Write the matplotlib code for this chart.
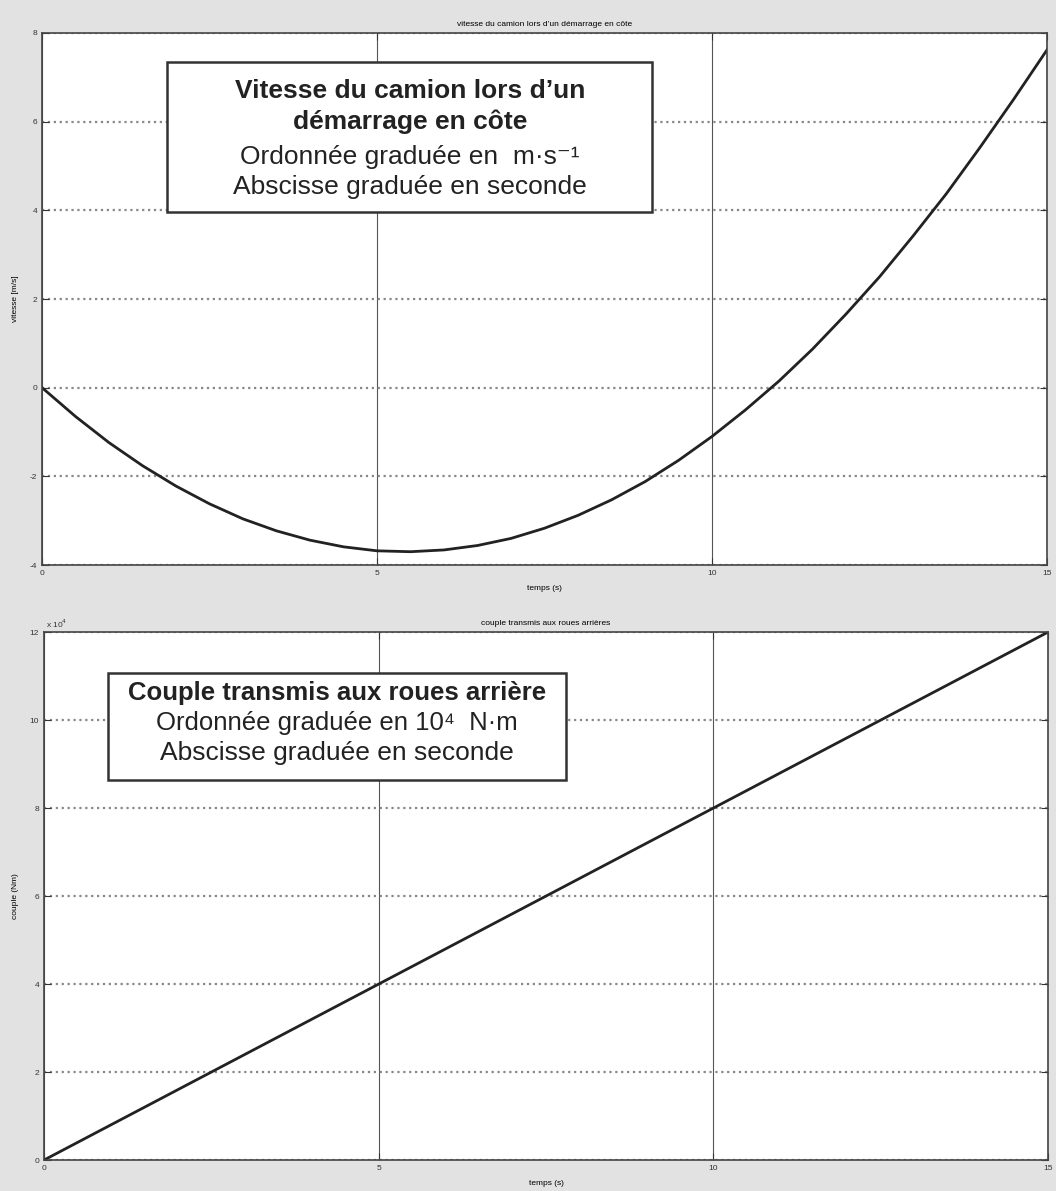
import matplotlib.pyplot as plt
from matplotlib.patches import Rectangle
from matplotlib.ticker import FuncFormatter

plt.rcParams['font.family'] = ['Liberation Sans', 'DejaVu Sans']
plt.rcParams['axes.unicode_minus'] = False

# vitesse du camion (m/s)
temps_v = [0, 0.5, 1, 1.5, 2, 2.5, 3, 3.5, 4, 4.5, 5, 5.5, 6, 6.5, 7, 7.5,
           8, 8.5, 9, 9.5, 10, 10.5, 11, 11.5, 12, 12.5, 13, 13.5, 14, 14.5, 15]
vitesse = [0, -0.65, -1.24, -1.76, -2.22, -2.62, -2.96, -3.23, -3.44, -3.59,
           -3.68, -3.70, -3.66, -3.56, -3.40, -3.17, -2.88, -2.53, -2.12, -1.64,
           -1.10, -0.50, 0.15, 0.87, 1.66, 2.5, 3.42, 4.38, 5.42, 6.5, 7.62]

# couple transmis (N.m)
temps_c = [0, 5, 10, 15]
couple = [0, 4e4, 8e4, 12e4]

x_ticks = [0, 5, 10, 15]
v_ticks = [-4, -2, 0, 2, 4, 6, 8]
c_ticks = [0, 2e4, 4e4, 6e4, 8e4, 10e4, 12e4]

fig = plt.figure(figsize=(10.56, 11.91), dpi=100, facecolor='#e2e2e2')
ax1 = fig.add_axes([0.0398, 0.5256, 0.9517, 0.4467])
ax2 = fig.add_axes([0.0417, 0.026, 0.9508, 0.4433])


def style_axes(ax):
    ax.set_facecolor('white')
    ax.set_xlim(0, 15)
    ax.set_xticks(x_ticks)
    ax.tick_params(labelsize=6, direction='in', length=5, width=0.8, colors='#333333',
                   top=True, right=True)
    for s in ax.spines.values():
        s.set_linewidth(1.2)
        s.set_color('#444444')
    ax.xaxis.grid(True, color='#555555', linestyle='-', linewidth=0.8)
    ax.yaxis.grid(True, color='#888888', linestyle=':', linewidth=1.6)
    ax.set_axisbelow(True)
    ax.set_xlabel('temps (s)', fontsize=6, labelpad=6)


style_axes(ax1)
ax1.plot(temps_v, vitesse, color='#222222', linewidth=2)
ax1.set_ylim(-4, 8)
ax1.set_yticks(v_ticks)
ax1.set_ylabel('vitesse [m/s]', fontsize=6, labelpad=8)
ax1.set_title('vitesse du camion lors d\u2019un démarrage en côte', fontsize=6, pad=5)

style_axes(ax2)
ax2.plot(temps_c, couple, color='#222222', linewidth=2)
ax2.set_ylim(0, 12e4)
ax2.set_yticks(c_ticks)
ax2.yaxis.set_major_formatter(FuncFormatter(lambda v, p: '%g' % (v / 1e4)))
ax2.text(0.002, 1.003, 'x 10$^4$', transform=ax2.transAxes, fontsize=6,
         ha='left', va='bottom', color='#333333')
ax2.set_ylabel('couple (Nm)', fontsize=6, labelpad=8)
ax2.set_title('couple transmis aux roues arrières', fontsize=6, pad=5)

# encadrés explicatifs
txt = dict(ha='center', va='center', color='#222222', zorder=6)
ax1.add_patch(Rectangle((0.124, 0.664), 0.483, 0.281, transform=ax1.transAxes,
                        facecolor='white', edgecolor='#333333', linewidth=1.8, zorder=5))
ax1.text(0.366, 0.891, 'Vitesse du camion lors d\u2019un', transform=ax1.transAxes,
         fontsize=19, fontweight='bold', **txt)
ax1.text(0.366, 0.834, 'démarrage en côte', transform=ax1.transAxes,
         fontsize=19, fontweight='bold', **txt)
ax1.text(0.366, 0.766, 'Ordonnée graduée en  m\u00b7s\u207b\u00b9', transform=ax1.transAxes,
         fontsize=19, **txt)
ax1.text(0.366, 0.710, 'Abscisse graduée en seconde', transform=ax1.transAxes,
         fontsize=19, **txt)

ax2.add_patch(Rectangle((0.064, 0.720), 0.456, 0.202, transform=ax2.transAxes,
                        facecolor='white', edgecolor='#333333', linewidth=1.8, zorder=5))
ax2.text(0.292, 0.884, 'Couple transmis aux roues arrière', transform=ax2.transAxes,
         fontsize=18.5, fontweight='bold', **txt)
ax2.text(0.292, 0.828, 'Ordonnée graduée en 10\u2074  N\u00b7m', transform=ax2.transAxes,
         fontsize=18.5, **txt)
ax2.text(0.292, 0.771, 'Abscisse graduée en seconde', transform=ax2.transAxes,
         fontsize=19, **txt)

plt.savefig('out.png', dpi=100, facecolor=fig.get_facecolor())
